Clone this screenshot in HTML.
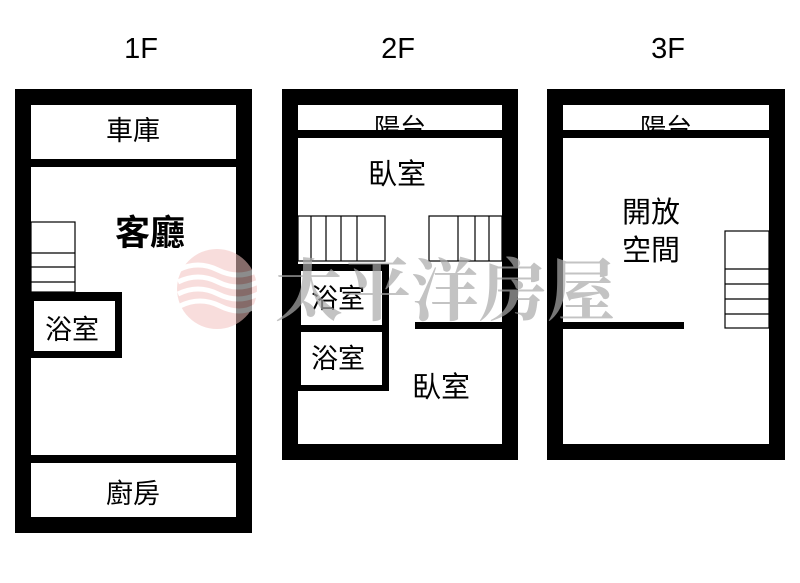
<!DOCTYPE html>
<html><head><meta charset="utf-8"><style>
body{margin:0;background:#fff;}
svg text{font-family:"Liberation Sans","Noto Sans CJK TC",sans-serif;fill:#000;}
</style></head><body>
<svg width="800" height="578" viewBox="0 0 800 578" xmlns="http://www.w3.org/2000/svg">
<rect width="800" height="578" fill="#fff"/>
<g font-size="29" text-anchor="middle">
<text x="141" y="58">1F</text><text x="398" y="58">2F</text><text x="668" y="58">3F</text>
</g>
<!-- 1F -->
<rect x="15" y="89" width="237" height="444" fill="#000"/>
<rect x="31" y="105" width="205" height="54" fill="#fff"/>
<rect x="31" y="167" width="205" height="288" fill="#fff"/>
<rect x="31" y="463" width="205" height="54" fill="#fff"/>
<g fill="none" stroke="#000" stroke-width="1.2">
<rect x="31" y="222" width="44" height="70"/>
<line x1="31" y1="253" x2="75" y2="253"/><line x1="31" y1="267" x2="75" y2="267"/><line x1="31" y1="282" x2="75" y2="282"/>
</g>
<rect x="31" y="292" width="91" height="66" fill="#000"/>
<rect x="34" y="301" width="81" height="50" fill="#fff"/>
<!-- 2F -->
<rect x="282" y="89" width="236" height="371" fill="#000"/>
<rect x="298" y="105" width="204" height="25" fill="#fff"/>
<rect x="298" y="138" width="204" height="306" fill="#fff"/>
<g fill="none" stroke="#000" stroke-width="1.2">
<rect x="298" y="216" width="87" height="45"/>
<line x1="311" y1="216" x2="311" y2="261"/><line x1="326" y1="216" x2="326" y2="261"/><line x1="341" y1="216" x2="341" y2="261"/><line x1="357" y1="216" x2="357" y2="261"/>
<rect x="429" y="216" width="73" height="45"/>
<line x1="458" y1="216" x2="458" y2="261"/><line x1="475" y1="216" x2="475" y2="261"/><line x1="489" y1="216" x2="489" y2="261"/>
</g>
<rect x="298" y="264" width="91" height="127" fill="#000"/>
<rect x="301" y="271" width="81" height="54" fill="#fff"/>
<rect x="301" y="332" width="81" height="53" fill="#fff"/>
<rect x="415" y="322" width="87" height="7" fill="#000"/>
<!-- 3F -->
<rect x="547" y="89" width="238" height="371" fill="#000"/>
<rect x="563" y="105" width="206" height="25" fill="#fff"/>
<rect x="563" y="138" width="206" height="306" fill="#fff"/>
<rect x="563" y="322" width="121" height="7" fill="#000"/>
<g fill="none" stroke="#000" stroke-width="1.2">
<rect x="725" y="231" width="44" height="97"/>
<line x1="725" y1="269" x2="769" y2="269"/><line x1="725" y1="284" x2="769" y2="284"/><line x1="725" y1="299" x2="769" y2="299"/><line x1="725" y1="314" x2="769" y2="314"/>
</g>
<!-- watermark logo -->
<g opacity="0.55">
<circle cx="217" cy="289" r="40" fill="#f3c3c0"/>
<path d="M178 270 q20 -10 40 0 t40 0 M178 282 q20 -10 40 0 t40 0 M178 294 q20 -10 40 0 t40 0 M180 306 q20 -10 40 0 t36 0" stroke="#fff" stroke-width="5" fill="none"/>
</g>
<clipPath id="c2"><rect x="298" y="105" width="204" height="25"/></clipPath>
<clipPath id="c3"><rect x="563" y="105" width="206" height="25"/></clipPath>
<text x="400" y="137" font-size="26" text-anchor="middle" clip-path="url(#c2)">陽台</text>
<text x="666" y="137" font-size="26" text-anchor="middle" clip-path="url(#c3)">陽台</text>
<g text-anchor="middle" font-size="27">
<text x="133" y="140">車庫</text>
<text x="150" y="245" font-size="35" font-weight="bold">客廳</text>
<text x="72" y="339">浴室</text>
<text x="133" y="503">廚房</text>
<text x="397" y="184" font-size="29">臥室</text>
<text x="338" y="308">浴室</text>
<text x="338" y="368">浴室</text>
<text x="441" y="397" font-size="29">臥室</text>
<text x="651" y="222" font-size="29">開放</text>
<text x="651" y="260" font-size="29">空間</text>
</g>
<text x="445" y="315" font-size="68" text-anchor="middle" style="font-family:'Liberation Serif','Noto Serif CJK SC',serif;fill:#aaa;opacity:0.7;font-weight:bold">太平洋房屋</text>
</svg>
</body></html>
